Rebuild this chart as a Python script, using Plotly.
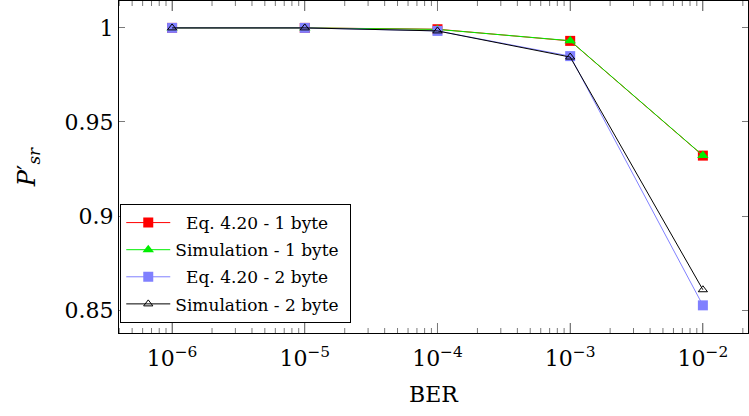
import plotly.graph_objects as go

ber = [1e-6, 1e-5, 1e-4, 1e-3, 1e-2]
eq_1byte = [1.0, 1.0, 0.9993, 0.9931, 0.9321]
sim_1byte = [1.0, 1.0, 0.9992, 0.9932, 0.9322]
eq_2byte = [1.0, 1.0, 0.9984, 0.9850, 0.8525]
sim_2byte = [1.0, 1.0, 0.9984, 0.9845, 0.8608]

x_tickvals = [1e-6, 1e-5, 1e-4, 1e-3, 1e-2]
x_ticktext = ["10<sup>−6</sup>", "10<sup>−5</sup>", "10<sup>−4</sup>", "10<sup>−3</sup>", "10<sup>−2</sup>"]
y_tickvals = [0.85, 0.9, 0.95, 1.0]
y_ticktext = ["0.85", "0.9", "0.95", "1"]

minor_vals = []
for e in range(-7, -1):
    for m in range(2, 10):
        v = m * 10.0 ** e
        if 10 ** -6.4 < v < 10 ** -1.66:
            minor_vals.append(v)

font_family = "DejaVu Serif, Liberation Serif, serif"
tick_gray = "#7a7a7a"
nb = "\u00a0"

fig = go.Figure()
fig.add_trace(go.Scatter(x=ber, y=eq_1byte, mode="lines+markers", name=nb * 2 + "Eq. 4.20 - 1 byte" + nb * 3,
                         legendgroup="a",
                         line=dict(color="#ff0000", width=1),
                         marker=dict(symbol="square", size=10, color="#ff0000")))
fig.add_trace(go.Scatter(x=ber, y=sim_1byte, mode="lines+markers", name="Simulation - 1 byte" + nb,
                         legendgroup="b",
                         line=dict(color="#00ee00", width=1),
                         marker=dict(symbol="triangle-up", size=10, color="#00ee00")))
fig.add_trace(go.Scatter(x=ber, y=eq_2byte, mode="lines+markers", name=nb * 2 + "Eq. 4.20 - 2 byte" + nb * 3,
                         legendgroup="c",
                         line=dict(color="#8080ff", width=1),
                         marker=dict(symbol="square", size=10, color="#8080ff")))
fig.add_trace(go.Scatter(x=ber, y=sim_2byte, mode="lines+markers", name="Simulation - 2 byte" + nb,
                         legendgroup="d",
                         line=dict(color="#000000", width=1),
                         marker=dict(symbol="triangle-up-open", size=8, color="#000000",
                                     line=dict(width=1, color="#000000"))))

# inward tick marks on the log axis (bottom and mirrored top)
plot_h = 416 - 83 - 1
major_len = 10 / plot_h
minor_len = 5 / plot_h
shapes = []
for v in x_tickvals:
    shapes.append(dict(type="line", xref="x", yref="paper", x0=v, x1=v, y0=0, y1=major_len,
                       line=dict(color=tick_gray, width=1), layer="above"))
    shapes.append(dict(type="line", xref="x", yref="paper", x0=v, x1=v, y0=1 - major_len, y1=1,
                       line=dict(color=tick_gray, width=1), layer="above"))
for v in minor_vals:
    shapes.append(dict(type="line", xref="x", yref="paper", x0=v, x1=v, y0=0, y1=minor_len,
                       line=dict(color=tick_gray, width=1), layer="above"))
    shapes.append(dict(type="line", xref="x", yref="paper", x0=v, x1=v, y0=1 - minor_len, y1=1,
                       line=dict(color=tick_gray, width=1), layer="above"))

fig.update_layout(
    width=749, height=416,
    margin=dict(l=119, r=1, t=1, b=83, autoexpand=False),
    paper_bgcolor="white", plot_bgcolor="white",
    font=dict(family=font_family, color="black"),
    showlegend=True,
    shapes=shapes,
    legend=dict(x=0.002, y=0.03, xanchor="left", yanchor="bottom",
                bgcolor="white", bordercolor="black", borderwidth=1,
                font=dict(size=17, family=font_family), tracegroupgap=2,
                itemwidth=44),
    xaxis=dict(type="log", range=[-6.4, -1.66], automargin=False,
               tickvals=x_tickvals, ticktext=x_ticktext,
               ticks="inside", ticklen=10, tickcolor=tick_gray, tickwidth=1,
               ticklabelstandoff=6,
               showline=True, linecolor="black", linewidth=1, mirror="ticks",
               showgrid=False, zeroline=False,
               tickfont=dict(size=22, family=font_family),
               title=dict(text="BER", font=dict(size=22, family=font_family), standoff=16)),
    yaxis=dict(range=[0.8378, 1.0143], automargin=False,
               tickvals=y_tickvals, ticktext=y_ticktext,
               ticks="inside", ticklen=6, tickcolor=tick_gray, tickwidth=1,
               showline=True, linecolor="black", linewidth=1, mirror="ticks",
               showgrid=False, zeroline=False,
               tickfont=dict(size=22, family=font_family),
               title=dict(text="<i>P</i>′<sub><i>sr</i></sub>", font=dict(size=24, family=font_family), standoff=22)),
)

fig.write_html("out.html", config={"displayModeBar": False},
               post_script="document.body.style.margin='0';document.body.style.overflow='hidden';")
